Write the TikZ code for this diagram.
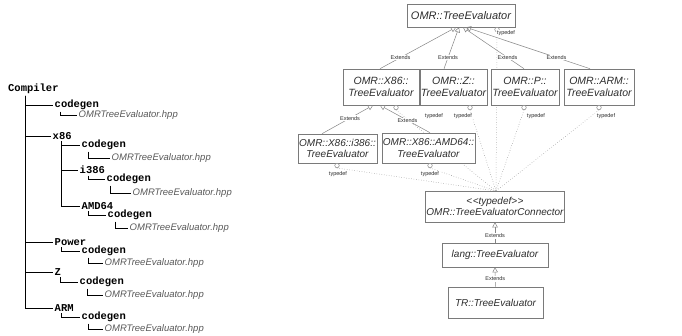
\documentclass[tikz,border=0pt]{standalone}
\usepackage{fontspec}
\setmainfont{Liberation Sans}
\newfontfamily\treemono{Liberation Mono}
\usetikzlibrary{arrows.meta,backgrounds}
\definecolor{boxline}{HTML}{7A7A7A}
\definecolor{boxtext}{HTML}{2E2E2E}
\definecolor{connline}{HTML}{858585}
\begin{document}
\begin{tikzpicture}[x=1pt,y=-1pt,
  cls/.style={draw=boxline, line width=0.6pt, fill=white, align=center, text=boxtext, inner sep=1pt},
  big/.style={font=\itshape\fontsize{11}{12.5}\selectfont},
  mid/.style={font=\itshape\fontsize{10.5}{12}\selectfont},
  small/.style={font=\itshape\fontsize{10}{11.5}\selectfont},
  lbl/.style={font=\fontsize{5.5}{6}\selectfont, text=boxtext, fill=white, inner sep=0.6pt},
  ext/.style={draw=connline, line width=0.5pt, -{Triangle[open,length=5pt,width=5.5pt]}},
  tdl/.style={draw=connline, line width=0.5pt, dotted},
  tipc/.style={circle, draw=connline, fill=white, inner sep=0pt, minimum size=4.5pt, line width=0.5pt, anchor=north},
  tree/.style={font=\treemono\bfseries\fontsize{10.5}{11}\selectfont, anchor=west, inner sep=1.5pt},
  file/.style={font=\itshape\fontsize{9.5}{10}\selectfont, text=black!65, anchor=west, inner sep=1.5pt},
  branch/.style={line width=1pt, black}]
\useasboundingbox (0,0) rectangle (682,335);

% ---------------- left tree ----------------
\node[tree] (comp)   at (6.5,89) {Compiler};
\node[tree] (cg1)    at (53,105) {codegen};
\node[file] (f1)     at (77,115) {OMRTreeEvaluator.hpp};
\node[tree] (x86)    at (51,136) {x86};
\node[tree] (x86cg)  at (80,145) {codegen};
\node[file] (x86f)   at (110,158) {OMRTreeEvaluator.hpp};
\node[tree] (i386)   at (78,170) {i386};
\node[tree] (i386cg) at (105,179) {codegen};
\node[file] (i386f)  at (131,193) {OMRTreeEvaluator.hpp};
\node[tree] (amd)    at (80,206) {AMD64};
\node[tree] (amdcg)  at (106,215) {codegen};
\node[file] (amdf)   at (128,228) {OMRTreeEvaluator.hpp};
\node[tree] (pow)    at (53,242) {Power};
\node[tree] (powcg)  at (80,251) {codegen};
\node[file] (powf)   at (103,263) {OMRTreeEvaluator.hpp};
\node[tree] (zz)     at (53,272) {Z};
\node[tree] (zcg)    at (78,282) {codegen};
\node[file] (zf)     at (103,295) {OMRTreeEvaluator.hpp};
\node[tree] (arm)    at (53,308) {ARM};
\node[tree] (armcg)  at (80,317) {codegen};
\node[file] (armf)   at (103,329) {OMRTreeEvaluator.hpp};

\foreach \c in {cg1,x86,pow,zz,arm}
  \draw[branch] ([xshift=18.5pt]comp.south west) |- (\c.west);
\foreach \c in {x86cg,i386,amd}
  \draw[branch] ([xshift=10pt]x86.south west) |- (\c.west);
\draw[branch] ([xshift=7pt]cg1.south west) |- (f1.west);
\draw[branch] ([xshift=8pt]x86cg.south west) |- (x86f.west);
\draw[branch] ([xshift=10pt]i386.south west) |- (i386cg.west);
\draw[branch] ([xshift=5pt]i386cg.south west) |- (i386f.west);
\draw[branch] ([xshift=8pt]amd.south west) |- (amdcg.west);
\draw[branch] ([xshift=9pt]amdcg.south west) |- (amdf.west);
\draw[branch] ([xshift=8pt]pow.south west) |- (powcg.west);
\draw[branch] ([xshift=8pt]powcg.south west) |- (powf.west);
\draw[branch] ([xshift=7pt]zz.south west) |- (zcg.west);
\draw[branch] ([xshift=9pt]zcg.south west) |- (zf.west);
\draw[branch] ([xshift=8pt]arm.south west) |- (armcg.west);
\draw[branch] ([xshift=8pt]armcg.south west) |- (armf.west);

% ---------------- class diagram ----------------
\node[cls,big,minimum width=108pt,minimum height=23pt] (top) at (461,15.5) {OMR::TreeEvaluator};
\node[cls,mid,minimum width=76pt,minimum height=36pt] (cx86) at (381,87) {OMR::X86::\\TreeEvaluator};
\node[cls,mid,minimum width=63pt,minimum height=36pt] (cz) at (453.5,87) {OMR::Z::\\TreeEvaluator};
\node[cls,mid,minimum width=68pt,minimum height=36pt] (cp) at (525,87) {OMR::P::\\TreeEvaluator};
\node[cls,mid,minimum width=70pt,minimum height=36pt] (carm) at (599,87) {OMR::ARM::\\TreeEvaluator};
\node[cls,small,minimum width=79pt,minimum height=29pt] (ci386) at (337.5,148.5) {OMR::X86::i386::\\TreeEvaluator};
\node[cls,small,minimum width=93pt,minimum height=30pt] (camd) at (428.5,148) {OMR::X86::AMD64::\\TreeEvaluator};
\node[cls,small,minimum width=138pt,minimum height=31pt] (cconn) at (495,206.5) {{<}\kern0.5pt{<}typedef{>}\kern0.5pt{>}\\OMR::TreeEvaluatorConnector};
\node[cls,small,minimum width=106pt,minimum height=24pt] (clang) at (495,255) {lang::TreeEvaluator};
\node[cls,small,minimum width=95pt,minimum height=31pt] (ctr) at (495.5,302.5) {TR::TreeEvaluator};

% typedef circles
\node[tipc] (otop)  at (497,27) {};
\node[tipc] (ox86)  at (396,105) {};
\node[tipc] (oz)    at (470,105) {};
\node[tipc] (op)    at (524,105) {};
\node[tipc] (oarm)  at (599,105) {};
\node[tipc] (oi386) at (337,163) {};
\node[tipc] (oamd)  at (430,163) {};
\coordinate (hub) at (496,191);

\node[lbl] at (506,33) {typedef};
\node[lbl] at (434,116) {typedef};
\node[lbl] at (463,116) {typedef};
\node[lbl] at (536,116) {typedef};
\node[lbl] at (606,116) {typedef};
\node[lbl] at (338,174) {typedef};
\node[lbl] at (430,174) {typedef};

\begin{pgfonlayer}{background}
  \foreach \o in {otop,ox86,oz,op,oarm,oi386,oamd}
    \draw[tdl] (\o.south) -- (hub);
\end{pgfonlayer}

% generalisation arrows
\coordinate (t1) at (456,27.3);
\coordinate (t2) at (459,27.3);
\coordinate (t3) at (463,27.3);
\coordinate (t4) at (466,27.3);
\coordinate (s1) at (cx86.north -| 380,0);
\coordinate (s2) at (cz.north -| 444,0);
\coordinate (s3) at (cp.north -| 524,0);
\coordinate (s4) at (carm.north -| 590,0);
\draw[ext] (s1) -- node[lbl,pos=0.27] {Extends} (t1);
\draw[ext] (s2) -- node[lbl,pos=0.27] {Extends} (t2);
\draw[ext] (s3) -- node[lbl,pos=0.27] {Extends} (t3);
\draw[ext] (s4) -- node[lbl,pos=0.27] {Extends} (t4);

\coordinate (u1) at (373,105.3);
\coordinate (u2) at (380,105.3);
\coordinate (v1) at (ci386.north -| 322,0);
\coordinate (v2) at (camd.north -| 430,0);
\draw[ext] (v1) -- node[lbl,pos=0.55] {Extends} (u1);
\draw[ext] (v2) -- node[lbl,pos=0.45] {Extends} (u2);

\draw[ext] (clang.north) -- node[lbl,pos=0.33] {Extends} (cconn.south);
\draw[ext] (ctr.north) -- node[lbl,pos=0.4] {Extends} (clang.south);
\end{tikzpicture}
\end{document}
